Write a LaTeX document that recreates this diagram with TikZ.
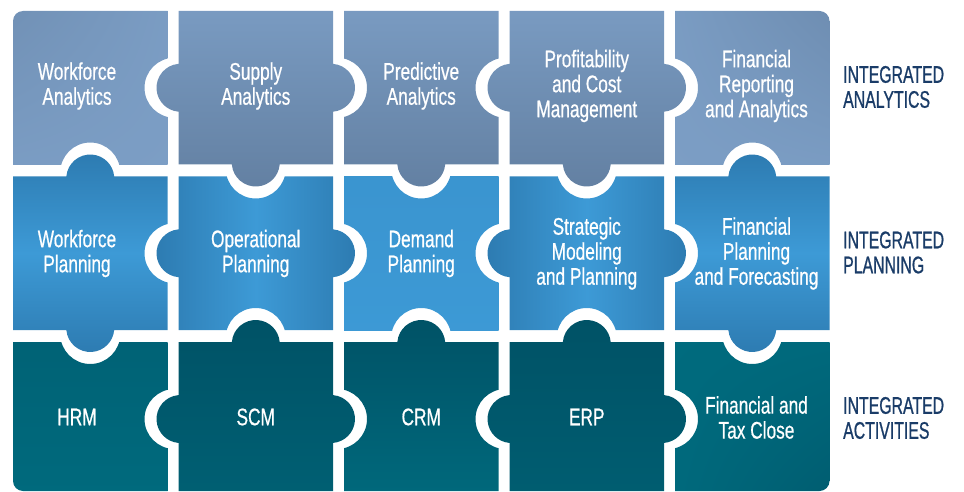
\documentclass[tikz,border=0pt]{standalone}
\usepackage{fontspec}
\usepackage{tikz}
\usetikzlibrary{shadings}

\newfontfamily\piecefont{Liberation Sans}[FakeStretch=0.72,FakeBold=0.6]
\newfontfamily\labelfont{Liberation Sans}[FakeStretch=0.66,FakeBold=0.8]

\definecolor{anaLt}{HTML}{7C9EC5}
\definecolor{anaDk}{HTML}{6380A2}
\definecolor{plnLt}{HTML}{3D9AD6}
\definecolor{plnDk}{HTML}{2D7BB1}
\definecolor{actLt}{HTML}{006B7E}
\definecolor{actDk}{HTML}{005266}
\definecolor{navy}{HTML}{1A3C68}

% hole cut into a piece, and the knob that fills it
\newcommand{\hole}[2]{(#1,#2) circle[radius=30pt]}
\newcommand{\knobL}[2]{(#1,#2-23.9) arc[start angle=94.8,end angle=265.2,radius=24pt] -- cycle}
\newcommand{\knobR}[2]{(#1,#2-23.9) arc[start angle=85.2,end angle=-85.2,radius=24pt] -- cycle}
\newcommand{\knobT}[2]{(#1-23.9,#2) arc[start angle=175.2,end angle=4.8,radius=24pt] -- cycle}
\newcommand{\knobB}[2]{(#1-23.9,#2) arc[start angle=184.8,end angle=355.2,radius=24pt] -- cycle}

% #1 column, #2 row, #3 holes, #4 knobs, #5 shading
\newcommand{\piece}[5]{%
	\pgfmathsetmacro{\pL}{13+165.5*(#1-1)}
	\pgfmathsetmacro{\pR}{\pL+154.5}
	\pgfmathsetmacro{\pT}{11+165.5*(#2-1)}
	\pgfmathsetmacro{\pB}{min(\pT+153.5,491)}
	\begin{scope}[even odd rule]
		\clip (0,0) rectangle (964,492) #3;
		\clip (\pL,\pT) rectangle (\pR,\pB) #4;
		\shade[#5] (\pL-24,\pT-24) rectangle (\pR+24,\pB+24);
	\end{scope}}

\begin{document}
\begin{tikzpicture}[x=1pt,y=-1pt,
	piecetext/.style={text=white,align=center,font=\piecefont\fontsize{24}{25}\selectfont},
	rowlabel/.style={anchor=west,inner sep=0pt,text=navy,align=left,font=\labelfont\fontsize{24}{25}\selectfont}]
	\useasboundingbox (0,0) rectangle (964,492);
	
	\begin{scope}
	\clip[rounded corners=10pt] (13,11) rectangle (829.5,491);
	
	% analytics
	\piece{1}{1}{\hole{174.5}{87.75} \hole{90.25}{172.5}}{}
		{upper left=anaDk!55!anaLt,upper right=anaLt,lower left=anaLt,lower right=anaLt}
	\piece{2}{1}{}{\knobL{178.5}{87.75} \knobR{333}{87.75} \knobB{255.75}{164.5}}
		{top color=anaLt,bottom color=anaDk}
	\piece{3}{1}{\hole{337}{87.75} \hole{505.5}{87.75}}{\knobB{421.25}{164.5}}
		{top color=anaLt,bottom color=anaDk}
	\piece{4}{1}{}{\knobL{509.5}{87.75} \knobR{664}{87.75} \knobB{586.75}{164.5}}
		{top color=anaLt,bottom color=anaDk}
	\piece{5}{1}{\hole{668}{87.75} \hole{752.25}{172.5}}{}
		{upper left=anaLt,upper right=anaDk!70!anaLt,lower left=anaLt,lower right=anaLt}
	
	% planning
	\piece{1}{2}{\hole{174.5}{253.25}}{\knobT{90.25}{176.5} \knobB{90.25}{330}}
		{top color=plnDk,bottom color=plnDk,middle color=plnLt}
	\piece{2}{2}{\hole{255.75}{168.5} \hole{255.75}{338}}{\knobL{178.5}{253.25} \knobR{333}{253.25}}
		{left color=plnDk,right color=plnDk,middle color=plnLt}
	\piece{3}{2}{\hole{337}{253.25} \hole{505.5}{253.25} \hole{421.25}{168.5} \hole{421.25}{338}}{}
		{top color=plnLt!80!plnDk,bottom color=plnLt}
	\piece{4}{2}{\hole{586.75}{168.5} \hole{586.75}{338}}{\knobL{509.5}{253.25} \knobR{664}{253.25}}
		{left color=plnDk,right color=plnDk,middle color=plnLt}
	\piece{5}{2}{\hole{668}{253.25}}{\knobT{752.25}{176.5} \knobB{752.25}{330}}
		{top color=plnDk,bottom color=plnDk,middle color=plnLt}
	
	% activities
	\piece{1}{3}{\hole{174.5}{419} \hole{90.25}{334}}{}
		{top color=actDk!40!actLt,bottom color=actLt}
	\piece{2}{3}{}{\knobL{178.5}{419} \knobR{333}{419} \knobT{255.75}{342}}
		{top color=actDk,bottom color=actLt!60!actDk}
	\piece{3}{3}{\hole{337}{419} \hole{505.5}{419}}{\knobT{421.25}{342}}
		{top color=actDk,bottom color=actLt}
	\piece{4}{3}{}{\knobL{509.5}{419} \knobR{664}{419} \knobT{586.75}{342}}
		{top color=actDk,bottom color=actLt!50!actDk}
	\piece{5}{3}{\hole{668}{419} \hole{752.25}{334}}{}
		{upper left=actLt,upper right=actLt,lower left=actLt,lower right=actDk!70!actLt}
	\end{scope}
	
	\node [piecetext] (wa) at (77,86) {Workforce\\Analytics};
	\node [piecetext] (sa) at (255.75,86) {Supply\\Analytics};
	\node [piecetext] (pa) at (421.25,86) {Predictive\\Analytics};
	\node [piecetext] (pcm) at (586.75,86) {Profitability\\and Cost\\Management};
	\node [piecetext] (fra) at (756.5,86) {Financial\\Reporting\\and Analytics};
	
	\node [piecetext] (wp) at (77,253.5) {Workforce\\Planning};
	\node [piecetext] (op) at (255.75,253.5) {Operational\\Planning};
	\node [piecetext] (dp) at (421.25,253.5) {Demand\\Planning};
	\node [piecetext] (smp) at (586.75,253.5) {Strategic\\Modeling\\and Planning};
	\node [piecetext] (fpf) at (756.5,253.5) {Financial\\Planning\\and Forecasting};
	
	\node [piecetext] (hrm) at (77,417) {HRM};
	\node [piecetext] (scm) at (255.75,417) {SCM};
	\node [piecetext] (crm) at (421.25,417) {CRM};
	\node [piecetext] (erp) at (586.75,417) {ERP};
	\node [piecetext] (ftc) at (756.5,417.5) {Financial and\\Tax Close};
	
	\node [rowlabel] (ia) at (843,87) {INTEGRATED\\ANALYTICS};
	\node [rowlabel] (ip) at (843,252.5) {INTEGRATED\\PLANNING};
	\node [rowlabel] (iac) at (843,418) {INTEGRATED\\ACTIVITIES};
	
\end{tikzpicture}
\end{document}
